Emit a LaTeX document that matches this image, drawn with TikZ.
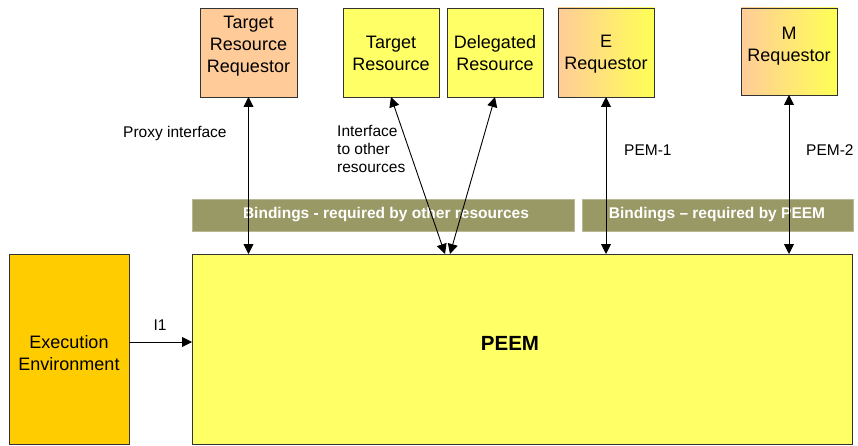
\documentclass[tikz,border=0pt]{standalone}
\usepackage{fontspec}
\setmainfont{Liberation Sans}
\usetikzlibrary{arrows.meta}
\definecolor{orangebox}{HTML}{FFCC99}
\definecolor{yellowbox}{HTML}{FFFF66}
\definecolor{gradyellow}{HTML}{FFFF55}
\definecolor{envbox}{HTML}{FFCC00}
\definecolor{bindbar}{HTML}{999966}
\definecolor{boxline}{HTML}{333333}
\tikzset{
  boxbase/.style={draw=boxline, line width=0.9pt, inner sep=0pt, outer sep=0pt, anchor=north west, align=center,
     font=\fontsize{18}{22}\selectfont},
  reqbox/.style={boxbase, fill=orangebox},
  resbox/.style={boxbase, fill=yellowbox},
  gradbox/.style={boxbase, left color=orangebox, right color=gradyellow},
  bindbox/.style={fill=bindbar, draw=bindbar!70!white, line width=0.6pt, inner sep=0pt, outer sep=0pt, anchor=north west,
     text=white, font=\fontsize{15.5}{18}\selectfont\bfseries},
  lbl/.style={font=\fontsize{15.5}{18}\selectfont, inner sep=0pt, align=left},
  conn/.style={line width=0.9pt, {Triangle[length=10pt,width=10pt]}-{Triangle[length=10pt,width=10pt]}},
  oneway/.style={line width=0.9pt, -{Triangle[length=10pt,width=10pt]}},
}
\begin{document}
\begin{tikzpicture}[x=1pt,y=-1pt]
\useasboundingbox (0,0) rectangle (858,446);
% top boxes
\node[reqbox, minimum width=97pt, minimum height=89pt] (trr) at (200,8) {};
\node[font=\fontsize{18}{22}\selectfont, align=center] (trrt) at (248.5,46) {Target\\Resource\\Requestor};
\node[resbox, minimum width=96pt, minimum height=89pt] (tr) at (343,8) {};
\node[font=\fontsize{18}{22}\selectfont, align=center] (trt) at (391,53) {Target\\Resource};
\node[resbox, minimum width=96pt, minimum height=89pt] (dr) at (447,8) {};
\node[font=\fontsize{18}{22}\selectfont, align=center] (drt) at (495,53) {Delegated\\Resource};
\node[gradbox, minimum width=96pt, minimum height=89pt] (er) at (558,8) {};
\node[font=\fontsize{18}{22}\selectfont, align=center] (ert) at (606,54) {E\\Requestor};
\node[gradbox, minimum width=96pt, minimum height=87pt] (mr) at (741,8) {};
\node[font=\fontsize{18}{22}\selectfont, align=center] (mrt) at (789,46) {M\\Requestor};
% binding bars
\node[bindbox, minimum width=382pt, minimum height=32pt] (b1) at (192,199) {};
\node[text=white, font=\fontsize{15.5}{18}\selectfont\bfseries] (b1t) at (386,215) {Bindings - required by other resources};
\node[bindbox, minimum width=271pt, minimum height=32pt] (b2) at (582,199) {};
\node[text=white, font=\fontsize{15.5}{18}\selectfont\bfseries] (b2t) at (717,215) {Bindings -- required by PEEM};
% main boxes
\node[resbox, minimum width=660pt, minimum height=190pt] (peem) at (192,254) {};
\node[font=\fontsize{20.5}{24}\selectfont\bfseries] (peemt) at (510,343) {PEEM};
\node[boxbase, fill=envbox, minimum width=120pt, minimum height=190pt] (env) at (9,254) {};
\node[font=\fontsize{18}{22}\selectfont, align=center] (envt) at (69,353) {Execution\\Environment};
% connectors
\coordinate (pa) at (445,254);
\coordinate (pb) at (450,254);
\draw[conn] (trr.south) -- (trr.south |- peem.north);
\draw[conn] (tr.south) -- (pa);
\draw[conn] (dr.south) -- (pb);
\draw[conn] (er.south) -- (er.south |- peem.north);
\draw[conn] (mr.south) -- (mr.south |- peem.north);
\draw[oneway] (env.east |- 0,342) -- (peem.west |- 0,342);
% labels
\node[lbl, anchor=west] (lproxy) at (123,133) {Proxy interface};
\node[lbl, anchor=north west, font=\fontsize{15.5}{18}\selectfont] (lint) at (337,125) {Interface\\to other\\resources};
\node[lbl, anchor=west] (lpem1) at (624,150) {PEM-1};
\node[lbl, anchor=west] (lpem2) at (806,150) {PEM-2};
\node[lbl] (li1) at (160,325) {I1};
\end{tikzpicture}
\end{document}
